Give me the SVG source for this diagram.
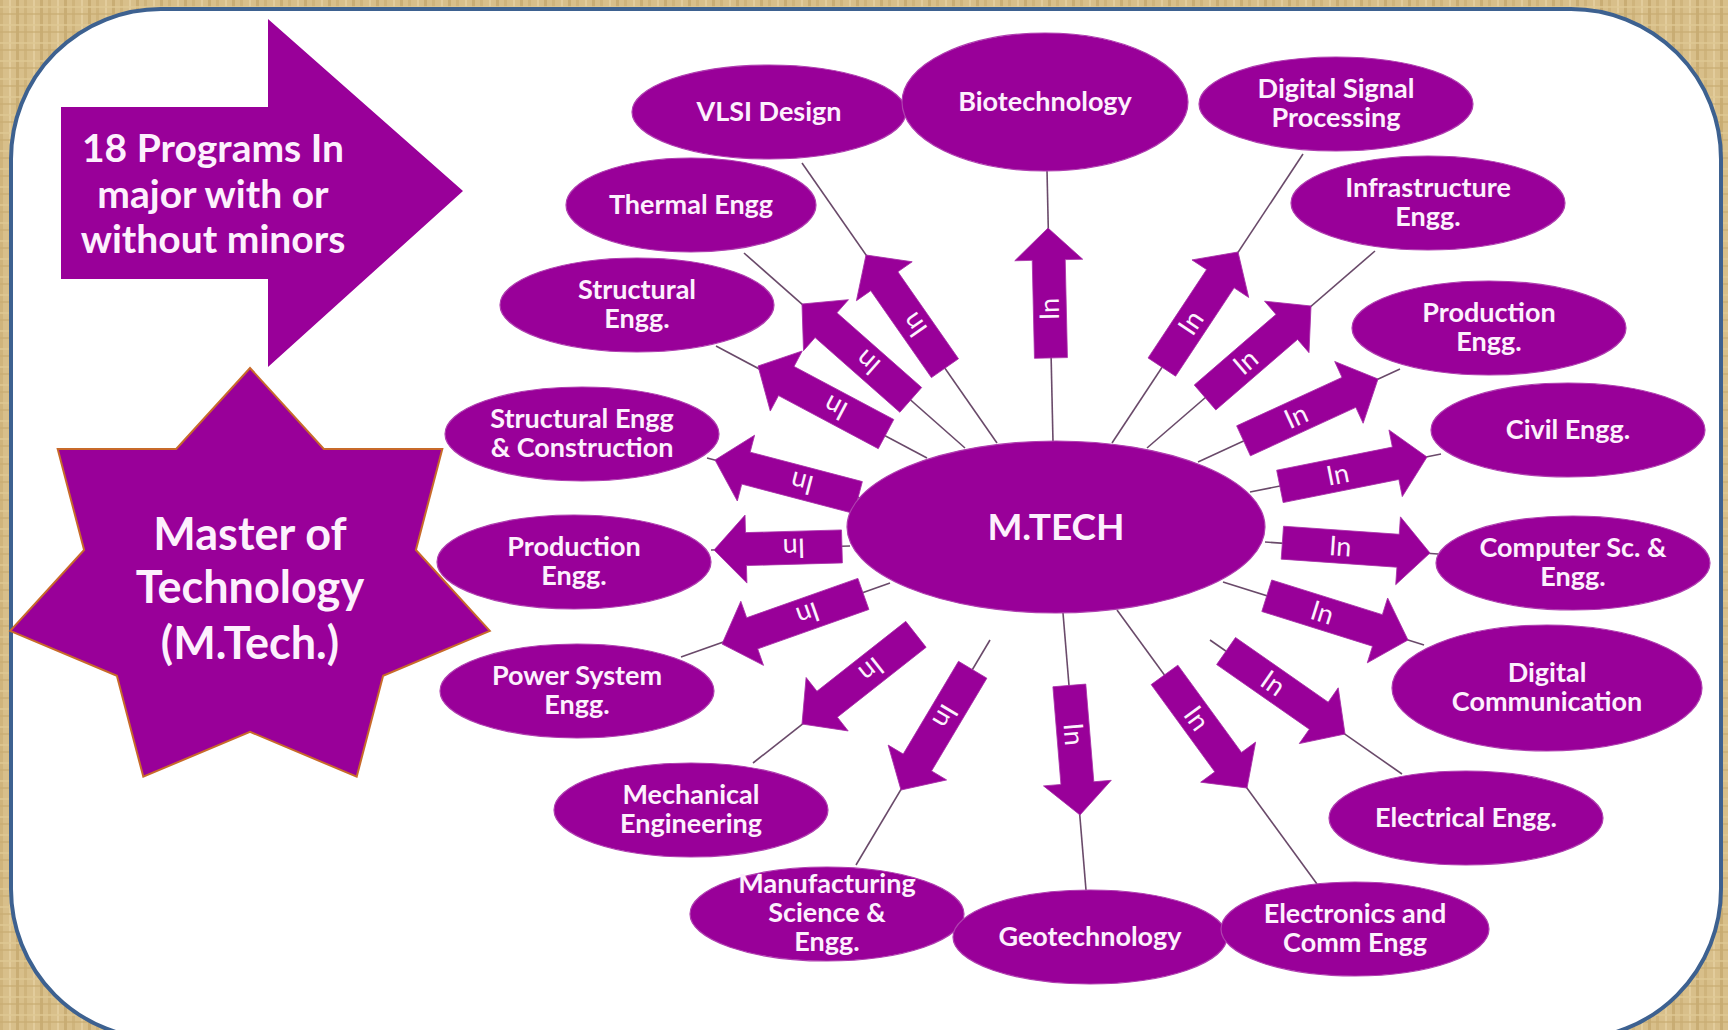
<svg xmlns="http://www.w3.org/2000/svg" width="1728" height="1030" viewBox="0 0 1728 1030">
<defs>
<pattern id="papyrus" width="24" height="18" patternUnits="userSpaceOnUse">
<rect width="24" height="18" fill="#d8bf8a"/>
<rect x="0" y="0" width="3" height="18" fill="#cfb47c"/>
<rect x="9" y="0" width="2" height="18" fill="#e2cc9c"/>
<rect x="16" y="0" width="3" height="18" fill="#c9ad74"/>
<rect x="0" y="6" width="24" height="2" fill="#e0c995" opacity="0.7"/>
<rect x="0" y="13" width="24" height="2" fill="#c8ab72" opacity="0.6"/>
</pattern>
<style>
.node{fill:#990099;}
.sat{fill:#990099;stroke:#b040b0;stroke-width:1.2;}
.lbl{font-family:Lato,"Open Sans","Liberation Sans",sans-serif;font-weight:bold;fill:#fdf0fd;text-anchor:middle;}
.sl{font-size:27px;}
.conn line{stroke:#6a4a6a;stroke-width:1.6;}
.arr{fill:#990099;stroke:#a830a8;stroke-width:0.8;}
.in{font-family:Lato,"Open Sans","Liberation Sans",sans-serif;font-size:27px;fill:#fdf0fd;text-anchor:middle;}
</style>
</defs>
<rect x="0" y="0" width="1728" height="1030" fill="url(#papyrus)"/>
<rect x="11" y="9" width="1710" height="1030" rx="150" ry="150" fill="#ffffff" stroke="#3d6190" stroke-width="4"/>

<g id="programs-arrow">
<polygon class="node" points="61,107 268,107 268,19 463,191 268,367 268,279 61,279"/>
<text class="lbl" font-size="39" x="213" y="162">18 Programs In<tspan x="213" dy="46">major with or</tspan><tspan x="213" dy="45">without minors</tspan></text>
</g>

<g id="master-star">
<polygon class="node" stroke="#c86a2a" stroke-width="2" points="250,368 323.8,448.9 442.3,448.9 415.9,549.9 489.8,630.8 383.1,675.8 356.7,776.7 250,731.8 143.3,776.7 116.9,675.8 10.2,630.8 84.1,549.9 57.7,448.9 176.2,448.9"/>
<text class="lbl" font-size="45" x="250" y="550">Master of<tspan x="250" dy="53">Technology</tspan><tspan x="250" dy="56">(M.Tech.)</tspan></text>
</g>

<g id="connectors" class="conn">
<line x1="997" y1="443" x2="802" y2="163"/>
<line x1="1053" y1="442" x2="1047" y2="170"/>
<line x1="1112" y1="443" x2="1303" y2="154"/>
<line x1="965" y1="448" x2="744" y2="253"/>
<line x1="1147" y1="448" x2="1375" y2="251"/>
<line x1="927" y1="458" x2="716" y2="346"/>
<line x1="1198" y1="462" x2="1400" y2="369"/>
<line x1="860" y1="498" x2="707" y2="458"/>
<line x1="1250" y1="492" x2="1441" y2="454"/>
<line x1="850" y1="546" x2="711" y2="550"/>
<line x1="1265" y1="542" x2="1438" y2="554"/>
<line x1="890" y1="583" x2="681" y2="657"/>
<line x1="1223" y1="582" x2="1424" y2="645"/>
<line x1="913" y1="637" x2="753" y2="763"/>
<line x1="1210" y1="640" x2="1402" y2="774"/>
<line x1="990" y1="640" x2="856" y2="865"/>
<line x1="1063" y1="613" x2="1086" y2="890"/>
<line x1="1117" y1="610" x2="1317" y2="884"/>

<g transform="translate(866,255) rotate(-124.9)"><path class="arr" d="M0,0 l-32,-34 v17.5 h-106 v33 h106 v17.5 z"/><text class="in" x="-85" y="9">In</text></g>
<g transform="translate(1048,228) rotate(-91.3)"><path class="arr" d="M0,0 l-32,-34 v17.5 h-98 v33 h98 v17.5 z"/><text class="in" x="-81" y="9">In</text></g>
<g transform="translate(1238,252) rotate(-56.5)"><path class="arr" d="M0,0 l-32,-34 v17.5 h-106 v33 h106 v17.5 z"/><text class="in" x="-85" y="9">In</text></g>
<g transform="translate(802,304) rotate(-138.6)"><path class="arr" d="M0,0 l-32,-34 v17.5 h-113 v33 h113 v17.5 z"/><text class="in" x="-88" y="9">In</text></g>
<g transform="translate(1311,306) rotate(-40.8)"><path class="arr" d="M0,0 l-32,-34 v17.5 h-108 v33 h108 v17.5 z"/><text class="in" x="-86" y="9">In</text></g>
<g transform="translate(758,366) rotate(-152)"><path class="arr" d="M0,0 l-32,-34 v17.5 h-113 v33 h113 v17.5 z"/><text class="in" x="-88" y="9">In</text></g>
<g transform="translate(1378,379) rotate(-24.7)"><path class="arr" d="M0,0 l-32,-34 v17.5 h-116 v33 h116 v17.5 z"/><text class="in" x="-90" y="9">In</text></g>
<g transform="translate(715,460) rotate(-165.3)"><path class="arr" d="M0,0 l-32,-34 v17.5 h-116 v33 h116 v17.5 z"/><text class="in" x="-90" y="9">In</text></g>
<g transform="translate(1427,457) rotate(-11.3)"><path class="arr" d="M0,0 l-32,-34 v17.5 h-118 v33 h118 v17.5 z"/><text class="in" x="-91" y="9">In</text></g>
<g transform="translate(714,550) rotate(178.4)"><path class="arr" d="M0,0 l-32,-34 v17.5 h-96 v33 h96 v17.5 z"/><text class="in" x="-80" y="9">In</text></g>
<g transform="translate(1430,553) rotate(4)"><path class="arr" d="M0,0 l-32,-34 v17.5 h-116 v33 h116 v17.5 z"/><text class="in" x="-90" y="9">In</text></g>
<g transform="translate(722,644) rotate(160.5)"><path class="arr" d="M0,0 l-32,-34 v17.5 h-118 v33 h118 v17.5 z"/><text class="in" x="-91" y="9">In</text></g>
<g transform="translate(1408,640) rotate(17.4)"><path class="arr" d="M0,0 l-32,-34 v17.5 h-116 v33 h116 v17.5 z"/><text class="in" x="-90" y="9">In</text></g>
<g transform="translate(802,724) rotate(141.8)"><path class="arr" d="M0,0 l-32,-34 v17.5 h-113 v33 h113 v17.5 z"/><text class="in" x="-88" y="9">In</text></g>
<g transform="translate(1345,734) rotate(34.9)"><path class="arr" d="M0,0 l-32,-34 v17.5 h-113 v33 h113 v17.5 z"/><text class="in" x="-88" y="9">In</text></g>
<g transform="translate(901,790) rotate(120.8)"><path class="arr" d="M0,0 l-32,-34 v17.5 h-108 v33 h108 v17.5 z"/><text class="in" x="-86" y="9">In</text></g>
<g transform="translate(1080,815) rotate(85.3)"><path class="arr" d="M0,0 l-32,-34 v17.5 h-98 v33 h98 v17.5 z"/><text class="in" x="-81" y="9">In</text></g>
<g transform="translate(1247,788) rotate(53.9)"><path class="arr" d="M0,0 l-32,-34 v17.5 h-108 v33 h108 v17.5 z"/><text class="in" x="-86" y="9">In</text></g>
</g>

<g id="mtech">
<ellipse class="sat" cx="1056" cy="527" rx="209" ry="86"/>
<text class="lbl" font-size="37" x="1056" y="540">M.TECH</text>
</g>

<g id="vlsi"><ellipse class="sat" cx="769" cy="112" rx="137" ry="47"/><text class="lbl sl" x="769" y="121">VLSI Design</text></g>
<g id="biotech"><ellipse class="sat" cx="1045" cy="102" rx="143" ry="69"/><text class="lbl sl" x="1045" y="111">Biotechnology</text></g>
<g id="dsp"><ellipse class="sat" cx="1336" cy="104" rx="137" ry="47"/><text class="lbl sl" x="1336" y="98">Digital Signal<tspan x="1336" dy="29">Processing</tspan></text></g>
<g id="thermal"><ellipse class="sat" cx="691" cy="205" rx="125" ry="47"/><text class="lbl sl" x="691" y="214">Thermal Engg</text></g>
<g id="infra"><ellipse class="sat" cx="1428" cy="203" rx="137" ry="47"/><text class="lbl sl" x="1428" y="197">Infrastructure<tspan x="1428" dy="29">Engg.</tspan></text></g>
<g id="structural"><ellipse class="sat" cx="637" cy="305" rx="137" ry="47"/><text class="lbl sl" x="637" y="299">Structural<tspan x="637" dy="29">Engg.</tspan></text></g>
<g id="production-r"><ellipse class="sat" cx="1489" cy="328" rx="137" ry="47"/><text class="lbl sl" x="1489" y="322">Production<tspan x="1489" dy="29">Engg.</tspan></text></g>
<g id="struct-constr"><ellipse class="sat" cx="582" cy="434" rx="137" ry="47"/><text class="lbl sl" x="582" y="428">Structural Engg<tspan x="582" dy="29">&amp; Construction</tspan></text></g>
<g id="civil"><ellipse class="sat" cx="1568" cy="430" rx="137" ry="47"/><text class="lbl sl" x="1568" y="439">Civil Engg.</text></g>
<g id="production-l"><ellipse class="sat" cx="574" cy="562" rx="137" ry="47"/><text class="lbl sl" x="574" y="556">Production<tspan x="574" dy="29">Engg.</tspan></text></g>
<g id="cse"><ellipse class="sat" cx="1573" cy="563" rx="137" ry="47"/><text class="lbl sl" x="1573" y="557">Computer Sc. &amp;<tspan x="1573" dy="29">Engg.</tspan></text></g>
<g id="power"><ellipse class="sat" cx="577" cy="691" rx="137" ry="47"/><text class="lbl sl" x="577" y="685">Power System<tspan x="577" dy="29">Engg.</tspan></text></g>
<g id="digcomm"><ellipse class="sat" cx="1547" cy="688" rx="155" ry="63"/><text class="lbl sl" x="1547" y="682">Digital<tspan x="1547" dy="29">Communication</tspan></text></g>
<g id="mech"><ellipse class="sat" cx="691" cy="810" rx="137" ry="47"/><text class="lbl sl" x="691" y="804">Mechanical<tspan x="691" dy="29">Engineering</tspan></text></g>
<g id="electrical"><ellipse class="sat" cx="1466" cy="818" rx="137" ry="47"/><text class="lbl sl" x="1466" y="827">Electrical Engg.</text></g>
<g id="manufacturing"><ellipse class="sat" cx="827" cy="914" rx="137" ry="47"/><text class="lbl sl" x="827" y="893">Manufacturing<tspan x="827" dy="29">Science &amp;</tspan><tspan x="827" dy="29">Engg.</tspan></text></g>
<g id="geotech"><ellipse class="sat" cx="1090" cy="937" rx="137" ry="47"/><text class="lbl sl" x="1090" y="946">Geotechnology</text></g>
<g id="ece"><ellipse class="sat" cx="1355" cy="929" rx="134" ry="47"/><text class="lbl sl" x="1355" y="923">Electronics and<tspan x="1355" dy="29">Comm Engg</tspan></text></g>
</svg>
